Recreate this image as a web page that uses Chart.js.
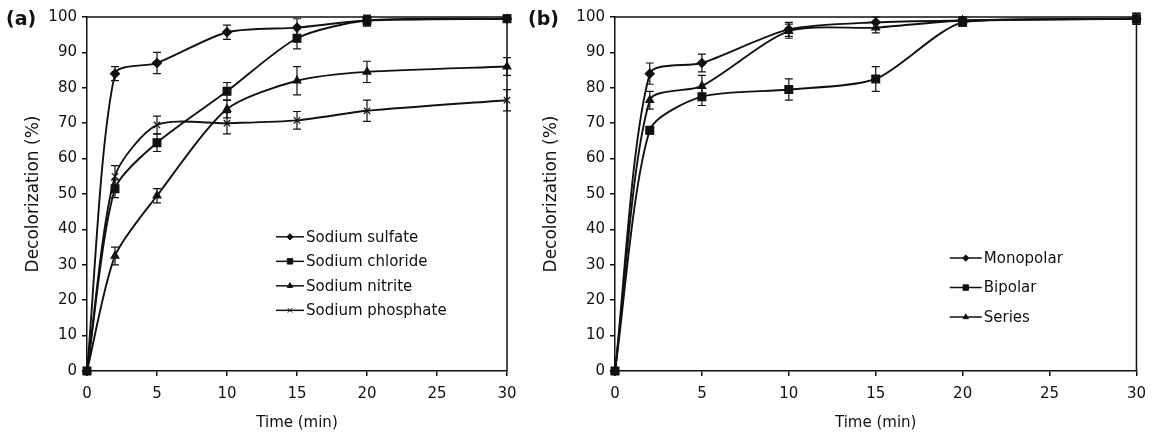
<!DOCTYPE html>
<html>
<head>
<meta charset="utf-8">
<script src="https://cdn.jsdelivr.net/npm/chart.js@4/dist/chart.umd.min.js"></script>
<style>
  body { margin: 0; background: #fff; }
  #wrap { position: relative; width: 1155px; height: 441px; }
  #wrap canvas { position: absolute; left: 0; top: 0; }
  .tag { position: absolute; font: bold 19px "DejaVu Sans", sans-serif; color: #111; }
</style>
</head>
<body>
<div id="wrap">
  <canvas id="chartA" width="1155" height="441"></canvas>
  <canvas id="chartB" width="1155" height="441"></canvas>
  <div class="tag" style="left:6px; top:7px">(a)</div>
  <div class="tag" style="left:528px; top:7px">(b)</div>
</div>
<script>
// sampling times (min), shared by both panels
const times = [0, 2, 5, 10, 15, 20, 30];
const xTicks = [0, 5, 10, 15, 20, 25, 30];
const yTicks = [0, 10, 20, 30, 40, 50, 60, 70, 80, 90, 100];

// panel (a) - electrolyte type
const sulfate = [0, 84, 87, 95.7, 97, 99, 99.5];
const sulfateErr = [0, 2, 3, 2, 2.5, 1.5, 1];
const chloride = [0, 51.5, 64.5, 79, 94, 99, 99.5];
const chlorideErr = [0, 2.5, 2.5, 2.5, 3, 1.5, 1];
const nitrite = [0, 32.5, 49.5, 74, 82, 84.5, 86];
const nitriteErr = [0, 2.5, 2, 2.5, 4, 3, 2.5];
const phosphate = [0, 55, 69.5, 70, 70.8, 73.5, 76.5];
const phosphateErr = [0, 3, 2.5, 3, 2.5, 3, 3];

// panel (b) - electrode connection
const monopolar = [0, 84, 87, 96.5, 98.5, 99, 99.5];
const monopolarErr = [0, 3, 2.5, 2, 1.5, 1, 1.5];
const bipolar = [0, 68, 77.5, 79.5, 82.5, 98.5, 99.5];
const bipolarErr = [0, 1, 2.5, 3, 3.5, 1, 1.5];
const series = [0, 76.5, 80.5, 96, 97, 99, 99.5];
const seriesErr = [0, 2.5, 3, 2, 1.5, 1, 1.5];

const INK = "#111";
const FONT = "DejaVu Sans";

function makeSet(label, values, errors, style, radius) {
  return {
    label,
    data: values.map((v, i) => ({ x: times[i], y: v })),
    errors,
    borderColor: INK,
    backgroundColor: INK,
    borderWidth: 1.9,
    tension: 0.25,
    pointStyle: style,
    pointRadius: radius,
    pointBackgroundColor: INK,
    pointBorderColor: INK,
    pointBorderWidth: 1.2,
    clip: 10
  };
}

// whiskers drawn through the y scale
const errorBars = {
  id: "errorBars",
  afterDatasetsDraw(chart) {
    const { ctx } = chart;
    const yScale = chart.scales.y;
    ctx.save();
    ctx.strokeStyle = INK;
    ctx.lineWidth = 1.2;
    chart.data.datasets.forEach((ds, di) => {
      const meta = chart.getDatasetMeta(di);
      (ds.errors || []).forEach((e, i) => {
        if (!e) return;
        const x = meta.data[i].x;
        const v = ds.data[i].y;
        const top = yScale.getPixelForValue(v + e);
        const bot = yScale.getPixelForValue(v - e);
        ctx.beginPath();
        ctx.moveTo(x, top); ctx.lineTo(x, bot);
        ctx.moveTo(x - 4, top); ctx.lineTo(x + 4, top);
        ctx.moveTo(x - 4, bot); ctx.lineTo(x + 4, bot);
        ctx.stroke();
      });
    });
    ctx.restore();
  }
};

// closes the plot box (top and right edges)
const frame = {
  id: "frame",
  beforeDatasetsDraw(chart) {
    const { ctx, chartArea: a } = chart;
    ctx.save();
    ctx.strokeStyle = INK;
    ctx.lineWidth = 1.5;
    ctx.beginPath();
    ctx.moveTo(a.left, a.top); ctx.lineTo(a.right, a.top); ctx.lineTo(a.right, a.bottom);
    ctx.stroke();
    ctx.restore();
  }
};

// legend placed inside the plot area
const insideLegend = {
  id: "insideLegend",
  afterDraw(chart, args, opts) {
    const { ctx, chartArea: a } = chart;
    const x0 = a.left + opts.x * (a.right - a.left);
    let y = a.top + opts.y * (a.bottom - a.top);
    ctx.save();
    ctx.font = opts.size + "px " + FONT;
    ctx.textBaseline = "middle";
    chart.data.datasets.forEach(ds => {
      ctx.strokeStyle = INK;
      ctx.fillStyle = INK;
      ctx.lineWidth = 1.5;
      ctx.beginPath();
      ctx.moveTo(x0, y); ctx.lineTo(x0 + opts.lineLen, y);
      ctx.stroke();
      ctx.lineWidth = 1;
      Chart.helpers.drawPoint(ctx, { pointStyle: ds.pointStyle, radius: ds.pointRadius * 0.7, borderWidth: 1, rotation: 0 }, x0 + opts.lineLen / 2, y);
      ctx.fillText(ds.label, x0 + opts.lineLen + 2, y + 1);
      y += opts.rowGap;
    });
    ctx.restore();
  }
};

function makeOptions(padLeft, padRight, yWidth, legend) {
  return {
    responsive: false,
    animation: false,
    layout: { padding: { left: padLeft, right: padRight, top: 17, bottom: 0 } },
    plugins: {
      legend: { display: false },
      tooltip: { enabled: false },
      insideLegend: legend
    },
    scales: {
      x: {
        type: "linear",
        min: 0,
        max: 30,
        afterBuildTicks: s => { s.ticks = xTicks.map(v => ({ value: v })); },
        afterFit: s => { s.height = 70; },
        ticks: { color: INK, font: { family: FONT, size: 15 }, padding: 9 },
        grid: { drawOnChartArea: false, drawTicks: true, tickLength: 5, color: INK, lineWidth: 1.5 },
        border: { color: INK, width: 1.5 },
        title: { display: true, text: "Time (min)", color: INK, font: { family: FONT, size: 15 }, padding: { top: 0, bottom: 9 } }
      },
      y: {
        min: 0,
        max: 100,
        afterBuildTicks: s => { s.ticks = yTicks.map(v => ({ value: v })); },
        afterFit: s => { s.width = yWidth; },
        ticks: { color: INK, font: { family: FONT, size: 15 }, padding: 5 },
        grid: { drawOnChartArea: false, drawTicks: true, tickLength: 5, color: INK, lineWidth: 1.5 },
        border: { color: INK, width: 1.5 },
        title: { display: true, text: "Decolorization (%)", color: INK, font: { family: FONT, size: 17 }, padding: { top: 3, bottom: 0 } }
      }
    }
  };
}

new Chart(document.getElementById("chartA"), {
  type: "line",
  data: {
    datasets: [
      makeSet("Sodium sulfate", sulfate, sulfateErr, "rectRot", 4.5),
      makeSet("Sodium chloride", chloride, chlorideErr, "rect", 5.5),
      makeSet("Sodium nitrite", nitrite, nitriteErr, "triangle", 4.5),
      makeSet("Sodium phosphate", phosphate, phosphateErr, "crossRot", 4.5)
    ]
  },
  options: makeOptions(20, 648, 67, { x: 0.45, y: 0.621, rowGap: 24.5, lineLen: 28, size: 15 }),
  plugins: [frame, errorBars, insideLegend]
});

new Chart(document.getElementById("chartB"), {
  type: "line",
  data: {
    datasets: [
      makeSet("Monopolar", monopolar, monopolarErr, "rectRot", 4.5),
      makeSet("Bipolar", bipolar, bipolarErr, "rect", 5.5),
      makeSet("Series", series, seriesErr, "triangle", 4.5)
    ]
  },
  options: makeOptions(538, 18, 77, { x: 0.642, y: 0.681, rowGap: 29.5, lineLen: 32, size: 15 }),
  plugins: [frame, errorBars, insideLegend]
});
</script>
</body>
</html>
